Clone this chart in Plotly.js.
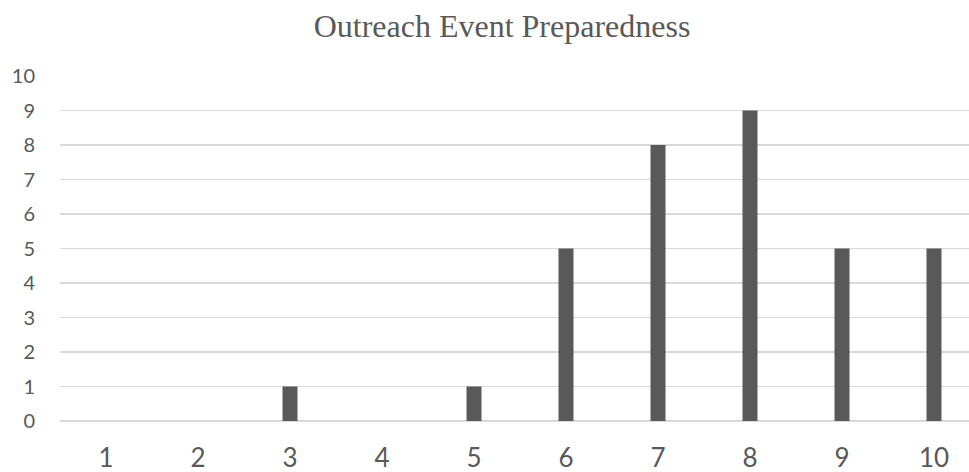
<!DOCTYPE html>
<html>
<head>
<meta charset="utf-8">
<script src="https://cdn.plot.ly/plotly-3.0.1.min.js"></script>
<style>html,body{margin:0;padding:0;background:#fff;}#chart{width:969px;height:472px;}</style>
</head>
<body>
<div id="chart"></div>
<script>
const categories = [1, 2, 3, 4, 5, 6, 7, 8, 9, 10];
const counts = [0, 0, 1, 0, 1, 5, 8, 9, 5, 5];
const yTicks = [0, 1, 2, 3, 4, 5, 6, 7, 8, 9, 10];
const chartTitle = "Outreach Event Preparedness";

const trace = {
  type: "bar",
  x: categories,
  y: counts,
  width: 0.163,
  marker: {color: "#595959"},
  hoverinfo: "x+y"
};

const layout = {
  width: 969,
  height: 472,
  margin: {l: 60, r: 0, t: 76, b: 51},
  paper_bgcolor: "#ffffff",
  plot_bgcolor: "#ffffff",
  showlegend: false,
  title: {
    text: chartTitle,
    font: {family: "Liberation Serif, Times New Roman, serif", size: 32, color: "#595959"},
    x: 502 / 969,
    xanchor: "center",
    xref: "container",
    yref: "container",
    y: 1 - 26 / 472,
    yanchor: "middle"
  },
  xaxis: {
    type: "linear",
    range: [0.5, 0.5 + 909 / 92],
    tickvals: categories,
    ticktext: categories.map(String),
    showgrid: false,
    zeroline: false,
    showline: false,
    ticks: "outside",
    ticklen: 14,
    tickcolor: "rgba(0,0,0,0)",
    tickfont: {family: "Lato, Open Sans, sans-serif", size: 26, color: "#595959"}
  },
  yaxis: {
    range: [0, 10],
    tickvals: yTicks,
    showgrid: true,
    gridcolor: "#d9d9d9",
    gridwidth: 1.4,
    zeroline: true,
    zerolinecolor: "#d9d9d9",
    zerolinewidth: 1.4,
    showline: false,
    ticks: "outside",
    ticklen: 20,
    tickcolor: "rgba(0,0,0,0)",
    tickfont: {family: "Lato, Open Sans, sans-serif", size: 20, color: "#595959"}
  }
};

Plotly.newPlot("chart", [trace], layout, {displayModeBar: false, staticPlot: true});
</script>
</body>
</html>
